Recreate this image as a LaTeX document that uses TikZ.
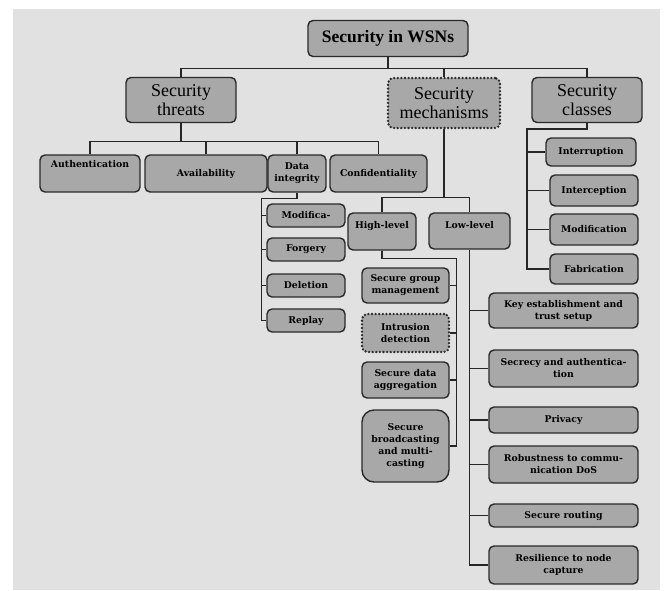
\documentclass[tikz,border=0pt]{standalone}
\usepackage{fontspec}
\setmainfont{Liberation Serif}
\newfontfamily\leaffont{DejaVu Serif}
\definecolor{bggray}{HTML}{E1E1E1}
\definecolor{boxgray}{HTML}{A8A8A8}
\definecolor{edgegray}{HTML}{2A2A2A}
\begin{document}
\begin{tikzpicture}[x=1pt, y=-1pt,
    box/.style={draw=edgegray, fill=boxgray, line width=1.4pt, rounded corners=5pt, align=center, inner sep=1pt},
    rootbox/.style={box, font=\bfseries\fontsize{17.5}{19}\selectfont},
    topbox/.style={box, font=\fontsize{18}{19}\selectfont},
    leaf/.style={box, font=\leaffont\bfseries\fontsize{9.3}{12}\selectfont},
    dotted box/.style={dash pattern=on 0pt off 3.6pt, line cap=round, line width=2.6pt},
    toptext/.style={text height=6pt, text depth=#1},
    link/.style={draw=black!85, line width=1.2pt}]
        % background
        \useasboundingbox (0,0) rectangle (664,590);
        \fill[bggray] (13,9) rectangle (660,590);

        % root and first level
        \node[rootbox, minimum width=160pt, minimum height=36pt] (root) at (388,38.5) {Security in WSNs};
        \node[topbox, minimum width=110pt, minimum height=45pt] (threats) at (181,100) {Security\\threats};
        \node[topbox, dotted box, minimum width=112pt, minimum height=50pt] (mech) at (444,103) {Security\\mechanisms};
        \node[topbox, minimum width=110pt, minimum height=45pt] (classes) at (587,100) {Security\\classes};

        % threats
        \node[leaf, toptext=19pt, minimum width=100pt, minimum height=37pt] (auth) at (90,173.5) {Authentication};
        \node[leaf, minimum width=122pt, minimum height=37pt] (avail) at (206,173.5) {Availability};
        \node[leaf, minimum width=58pt, minimum height=37pt] (dint) at (297,173.5) {Data\\integrity};
        \node[leaf, minimum width=97pt, minimum height=37pt] (conf) at (378.5,173.5) {Confidentiality};
        \node[leaf, minimum width=78pt, minimum height=23pt] (modif) at (306,215.5) {Modifica-};
        \node[leaf, minimum width=78pt, minimum height=23pt] (forgery) at (306,249.5) {Forgery};
        \node[leaf, minimum width=78pt, minimum height=23pt] (deletion) at (306,285.5) {Deletion};
        \node[leaf, minimum width=78pt, minimum height=23pt] (replay) at (306,320.5) {Replay};

        % mechanisms
        \node[leaf, toptext=12pt, minimum width=68pt, minimum height=37pt] (high) at (382,231.5) {High-level};
        \node[leaf, toptext=12pt, minimum width=81pt, minimum height=36pt] (low) at (469.5,231) {Low-level};
        \node[leaf, minimum width=87pt, minimum height=35pt] (sgm) at (405.5,285.5) {Secure group\\management};
        \node[leaf, dotted box, minimum width=87pt, minimum height=38pt] (intr) at (405.5,333) {Intrusion\\detection};
        \node[leaf, minimum width=87pt, minimum height=36pt] (sda) at (405.5,380) {Secure data\\aggregation};
        \node[leaf, rounded corners=12pt, minimum width=87pt, minimum height=72pt] (sbm) at (405.5,446) {Secure\\broadcasting\\and multi-\\casting};
        \node[leaf, minimum width=149pt, minimum height=35pt] (key) at (563.5,310.5) {Key establishment and\\trust setup};
        \node[leaf, minimum width=149pt, minimum height=37pt] (secrecy) at (563.5,368.5) {Secrecy and authentica-\\tion};
        \node[leaf, minimum width=149pt, minimum height=26pt] (privacy) at (563.5,420) {Privacy};
        \node[leaf, minimum width=149pt, minimum height=37pt] (robust) at (563.5,464.5) {Robustness to commu-\\nication DoS};
        \node[leaf, minimum width=149pt, minimum height=23pt] (routing) at (563.5,515.5) {Secure routing};
        \node[leaf, minimum width=149pt, minimum height=38pt] (resil) at (563.5,565) {Resilience to node\\capture};

        % classes
        \node[leaf, minimum width=90pt, minimum height=28pt] (intrp) at (591,152) {Interruption};
        \node[leaf, minimum width=88pt, minimum height=31pt] (intcp) at (594,190.5) {Interception};
        \node[leaf, minimum width=88pt, minimum height=31pt] (modcls) at (594,229.5) {Modification};
        \node[leaf, minimum width=88pt, minimum height=30pt] (fab) at (594,269) {Fabrication};
        \coordinate (cbend) at (527,129);

        % links
        \foreach \n in {threats,mech,classes}
          \draw[link] (root.south) -- ++(0,11) -| (\n.north);
        \foreach \n in {auth,avail,dint,conf}
          \draw[link] (threats.south) -- ++(0,18) -| (\n.north);
        \draw[link] (dint.south) -- ++(0,6) -| ([xshift=-5pt]replay.west) -- (replay.west);
        \foreach \n in {modif,forgery,deletion}
          \draw[link] (\n.west) -- ++(-5,0);
        \foreach \n in {high,low}
          \draw[link] (mech.south) -- ++(0,68) -| (\n.north);
        \draw[link] (high.south) -- ++(0,8) -| ([xshift=7pt]sbm.east) -- (sbm.east);
        \foreach \n in {sgm,intr,sda}
          \draw[link] (\n.east) -- ++(7,0);
        \draw[link] (low.south) |- (resil.west);
        \foreach \n in {key,secrecy,privacy,robust,routing}
          \draw[link] (\n.west) -- (\n.west -| low.south);
        \draw[link] (classes.south) |- (cbend) |- (fab.west);
        \draw[link, line width=2.4pt] (classes.south) |- (cbend) -- (cbend |- intrp.west);
        \foreach \n in {intrp,intcp,modcls}
          \draw[link] (cbend |- \n.west) -- (\n.west);

\end{tikzpicture}
\end{document}
